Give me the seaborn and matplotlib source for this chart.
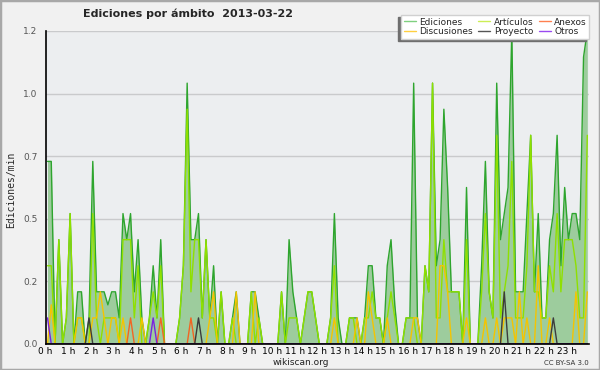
import numpy as np
import pandas as pd
import matplotlib
matplotlib.use("Agg")
import matplotlib.pyplot as plt
import matplotlib.patches as mpatches
from matplotlib.lines import Line2D
from matplotlib.ticker import MultipleLocator, FuncFormatter
import seaborn as sns

# Ediciones por minuto, intervalos de 10 minutos (144 por día)
ediciones = [
    0.7, 0.7, 0.0, 0.4, 0.0, 0.1, 0.5, 0.0, 0.2, 0.2, 0.0, 0.1,
    0.7, 0.2, 0.2, 0.2, 0.15, 0.2, 0.2, 0.1, 0.5, 0.4, 0.5, 0.2,
    0.4, 0.1, 0.0, 0.1, 0.3, 0.1, 0.4, 0.0, 0.0, 0.0, 0.0, 0.1,
    0.3, 1.0, 0.4, 0.4, 0.5, 0.1, 0.4, 0.1, 0.3, 0.0, 0.2, 0.0,
    0.0, 0.1, 0.2, 0.0, 0.0, 0.0, 0.2, 0.2, 0.1, 0.0, 0.0, 0.0,
    0.0, 0.0, 0.2, 0.0, 0.4, 0.2, 0.1, 0.0, 0.1, 0.2, 0.2, 0.1,
    0.0, 0.0, 0.0, 0.1, 0.5, 0.1, 0.0, 0.0, 0.1, 0.1, 0.1, 0.0,
    0.1, 0.3, 0.3, 0.1, 0.1, 0.0, 0.3, 0.4, 0.15, 0.0, 0.0, 0.1,
    0.1, 1.0, 0.1, 0.0, 0.3, 0.2, 1.0, 0.3, 0.4, 0.9, 0.6, 0.2,
    0.2, 0.2, 0.0, 0.6, 0.0, 0.0, 0.0, 0.3, 0.7, 0.2, 0.1, 1.0,
    0.4, 0.5, 0.6, 1.2, 0.2, 0.2, 0.2, 0.5, 0.8, 0.2, 0.5, 0.1,
    0.1, 0.4, 0.5, 0.8, 0.3, 0.6, 0.4, 0.5, 0.5, 0.4, 1.1, 1.2,
]
articulos = [
    0.3, 0.3, 0.0, 0.4, 0.0, 0.1, 0.5, 0.0, 0.1, 0.1, 0.0, 0.0,
    0.5, 0.1, 0.0, 0.1, 0.1, 0.1, 0.1, 0.0, 0.4, 0.4, 0.4, 0.1,
    0.3, 0.0, 0.0, 0.1, 0.2, 0.1, 0.3, 0.0, 0.0, 0.0, 0.0, 0.1,
    0.3, 0.9, 0.2, 0.4, 0.4, 0.1, 0.4, 0.1, 0.1, 0.0, 0.2, 0.0,
    0.0, 0.1, 0.0, 0.0, 0.0, 0.0, 0.2, 0.0, 0.1, 0.0, 0.0, 0.0,
    0.0, 0.0, 0.2, 0.0, 0.1, 0.1, 0.1, 0.0, 0.1, 0.2, 0.2, 0.1,
    0.0, 0.0, 0.0, 0.1, 0.3, 0.0, 0.0, 0.0, 0.1, 0.1, 0.0, 0.0,
    0.1, 0.1, 0.2, 0.1, 0.1, 0.0, 0.1, 0.2, 0.1, 0.0, 0.0, 0.1,
    0.1, 0.1, 0.0, 0.0, 0.3, 0.2, 1.0, 0.1, 0.1, 0.4, 0.2, 0.2,
    0.2, 0.2, 0.0, 0.4, 0.0, 0.0, 0.0, 0.2, 0.5, 0.2, 0.1, 0.8,
    0.1, 0.2, 0.3, 0.7, 0.1, 0.1, 0.1, 0.3, 0.8, 0.2, 0.2, 0.1,
    0.1, 0.3, 0.2, 0.5, 0.2, 0.4, 0.4, 0.4, 0.3, 0.1, 0.1, 0.8,
]
discusiones = [
    0.0, 0.15, 0.0, 0.0, 0.0, 0.0, 0.0, 0.0, 0.1, 0.1, 0.0, 0.0,
    0.1, 0.1, 0.2, 0.1, 0.0, 0.1, 0.1, 0.0, 0.1, 0.0, 0.0, 0.0,
    0.0, 0.1, 0.0, 0.0, 0.0, 0.0, 0.0, 0.0, 0.0, 0.0, 0.0, 0.0,
    0.0, 0.0, 0.0, 0.0, 0.0, 0.0, 0.0, 0.1, 0.2, 0.0, 0.0, 0.0,
    0.0, 0.0, 0.2, 0.0, 0.0, 0.0, 0.0, 0.2, 0.0, 0.0, 0.0, 0.0,
    0.0, 0.0, 0.0, 0.0, 0.0, 0.0, 0.0, 0.0, 0.0, 0.0, 0.0, 0.0,
    0.0, 0.0, 0.0, 0.0, 0.1, 0.0, 0.0, 0.0, 0.0, 0.0, 0.1, 0.0,
    0.0, 0.2, 0.1, 0.0, 0.0, 0.0, 0.1, 0.0, 0.0, 0.0, 0.0, 0.0,
    0.0, 0.1, 0.1, 0.0, 0.0, 0.0, 0.0, 0.0, 0.3, 0.3, 0.2, 0.0,
    0.0, 0.0, 0.0, 0.1, 0.0, 0.0, 0.0, 0.0, 0.1, 0.0, 0.0, 0.1,
    0.0, 0.1, 0.1, 0.1, 0.0, 0.2, 0.0, 0.1, 0.0, 0.0, 0.3, 0.0,
    0.0, 0.1, 0.0, 0.0, 0.0, 0.0, 0.0, 0.0, 0.2, 0.0, 0.0, 0.2,
]
# series casi vacías: (intervalo, valor)
anexos_picos = {22: 0.1, 30: 0.1, 38: 0.1}
proyecto_picos = {11: 0.1, 40: 0.1, 121: 0.2, 134: 0.1}
otros_picos = {0: 0.1, 28: 0.1}

n = len(ediciones)
horas = (np.arange(n) + 0.5) / 6
anexos = [anexos_picos.get(i, 0.0) for i in range(n)]
proyecto = [proyecto_picos.get(i, 0.0) for i in range(n)]
otros = [otros_picos.get(i, 0.0) for i in range(n)]

series = {
    "Ediciones": ediciones,
    "Artículos": articulos,
    "Discusiones": discusiones,
    "Anexos": anexos,
    "Proyecto": proyecto,
    "Otros": otros,
}
line_colors = {
    "Ediciones": "#2ea52e",
    "Artículos": "#8fe000",
    "Discusiones": "#f5c400",
    "Anexos": "#f26522",
    "Proyecto": "#3c3c3c",
    "Otros": "#7a22e0",
}
legend_colors = {
    "Ediciones": "#7fd07f",
    "Artículos": "#ccee55",
    "Anexos": "#ff8050",
    "Discusiones": "#ffd040",
    "Proyecto": "#555555",
    "Otros": "#9a4af0",
}

df = pd.concat(
    [pd.DataFrame({"hora": horas, "valor": v, "ambito": k}) for k, v in series.items()],
    ignore_index=True,
)

sns.set_style("white")
plt.rcParams["font.family"] = ["DejaVu Sans"]

fig = plt.figure(figsize=(6, 3.7), dpi=100, facecolor="#f1f1f1")
ax = fig.add_axes([0.076, 0.0703, 0.906, 0.846])
ax.set_facecolor("#eceef0")

ax.fill_between(horas, ediciones, 0, color="#9dcc9d", linewidth=0, zorder=1)
sns.lineplot(data=df, x="hora", y="valor", hue="ambito", hue_order=list(series.keys()),
             palette=line_colors, linewidth=1, legend=False, errorbar=None, ax=ax, zorder=2)

ax.set_xlim(0, 24)
ax.set_ylim(0, 1.2)
ax.xaxis.set_major_locator(MultipleLocator(1))
ax.xaxis.set_minor_locator(MultipleLocator(1 / 6))
ax.xaxis.set_major_formatter(FuncFormatter(lambda v, p: f"{int(round(v))} h" if v < 23.5 else ""))
ax.yaxis.set_major_locator(MultipleLocator(0.24))
ax.yaxis.set_minor_locator(MultipleLocator(0.06))
ax.yaxis.set_major_formatter(FuncFormatter(lambda v, p: f"{v:.1f}"))
ax.grid(axis="y", which="major", color="#c9cacc", linewidth=1)
ax.set_axisbelow(True)

for s in ["top", "right"]:
    ax.spines[s].set_visible(False)
for s in ["left", "bottom"]:
    ax.spines[s].set_color("black")
    ax.spines[s].set_linewidth(1.2)
    ax.spines[s].set_zorder(5)

ax.tick_params(axis="x", which="major", direction="out", length=4, width=1, labelsize=6.5, pad=-1.5, colors="black")
ax.tick_params(axis="x", which="minor", direction="out", length=3, width=1)
ax.tick_params(axis="y", which="major", direction="out", length=5, width=1, labelsize=6.5, pad=1, colors="black", labelcolor="#555555")
ax.tick_params(axis="y", which="minor", direction="out", length=3, width=1)
ax.set_xlabel("")
ax.set_ylabel("")

fig.text(0.313, 0.962, "Ediciones por ámbito  2013-03-22", ha="center", va="center",
         fontsize=8, fontweight="bold")
fig.text(0.018, 0.487, "Ediciones/min", rotation=90, ha="center", va="center",
         fontsize=7, family="DejaVu Sans Mono")
fig.text(0.502, 0.020, "wikiscan.org", ha="center", va="center", fontsize=6.5, color="#222222")
fig.text(0.982, 0.020, "CC BY-SA 3.0", ha="right", va="center", fontsize=5, color="#333333")

order = ["Ediciones", "Discusiones", "Artículos", "Proyecto", "Anexos", "Otros"]
handles = [Line2D([0], [0], color=legend_colors[k], lw=1) for k in order]
leg = fig.legend(handles, order, loc="upper right", bbox_to_anchor=(0.99, 0.972), ncol=3,
                 fontsize=6.5, handlelength=1.3, handletextpad=0.4, columnspacing=0.6,
                 labelspacing=0.05, borderpad=0.3, fancybox=False, frameon=True,
                 facecolor="white", edgecolor="#d0d0d0", framealpha=1)
leg.set_zorder(10)
fig.canvas.draw()
bb = leg.get_window_extent().transformed(fig.transFigure.inverted())
fig.patches.append(mpatches.Rectangle((bb.x0 - 0.005, bb.y0 - 0.007), bb.width, bb.height,
                                      transform=fig.transFigure, color="#6e6e6e", zorder=9))

fig.patches.append(mpatches.Rectangle((0, 0), 1, 1, transform=fig.transFigure, fill=False,
                                      edgecolor="#a8a8a8", linewidth=2.5, zorder=20))

fig.savefig("out.png", dpi=100, facecolor=fig.get_facecolor())
